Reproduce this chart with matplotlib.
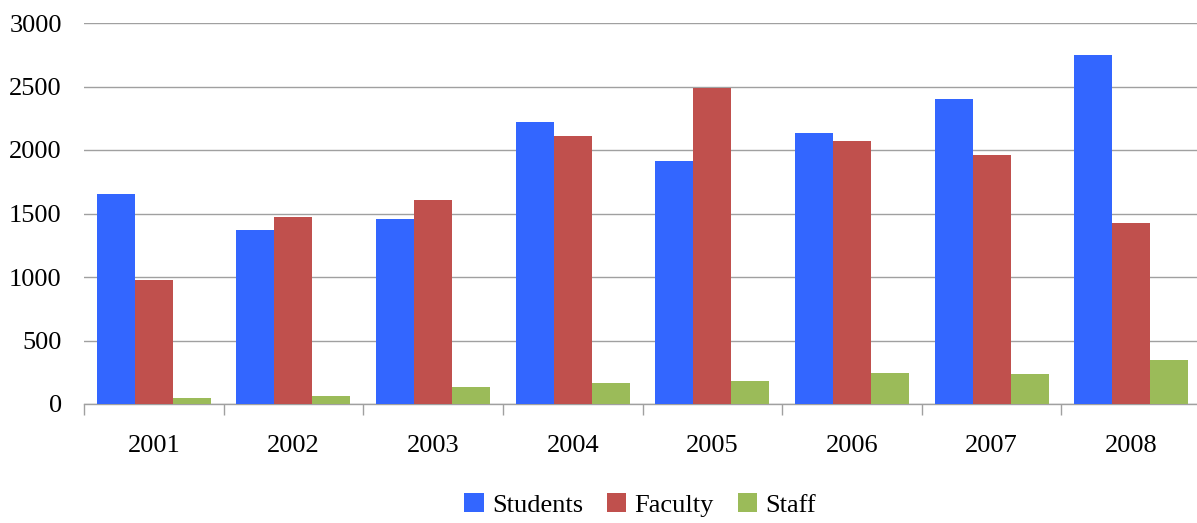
import numpy as np
import matplotlib.pyplot as plt

plt.rcParams['font.family'] = ['Liberation Serif', 'DejaVu Serif']

years = ['2001', '2002', '2003', '2004', '2005', '2006', '2007', '2008']
students = [1650, 1370, 1455, 2220, 1912, 2135, 2402, 2750]
faculty = [975, 1470, 1605, 2110, 2490, 2070, 1960, 1425]
staff = [50, 65, 130, 168, 184, 247, 240, 350]

series = [('Students', students, '#3366FF'),
          ('Faculty', faculty, '#C0504D'),
          ('Staff', staff, '#9BBB59')]

fig = plt.figure(figsize=(11.97, 5.23), dpi=100)
ax = fig.add_axes([84 / 1197, 119 / 523, 1117 / 1197, 381 / 523])

x = np.arange(len(years))
w = 0.272
for i, (name, vals, col) in enumerate(series):
    ax.bar(x + (i - 1) * w, vals, width=w, color=col, label=name, zorder=3)

ax.set_xlim(-0.5, len(years) - 0.5)
ax.set_ylim(0, 3000)
ax.set_yticks(range(0, 3001, 500))
ax.grid(axis='y', color='#a0a0a0', linewidth=1, zorder=0)
ax.set_xticks(x)
ax.set_xticklabels(years)
ax.set_xticks(np.arange(-0.5, len(years)), minor=True)
ax.tick_params(axis='x', which='major', length=0, pad=22, labelsize=19)
ax.tick_params(axis='x', which='minor', length=8, color='#a0a0a0', width=1)
ax.tick_params(axis='y', length=0, pad=16, labelsize=19)
for s in ['top', 'right', 'left']:
    ax.spines[s].set_visible(False)
ax.spines['bottom'].set_color('#a0a0a0')
ax.spines['bottom'].set_linewidth(1)

fig.legend(loc='center', bbox_to_anchor=(640 / 1197, 1 - 505 / 523), ncol=3,
           frameon=False, fontsize=19, handlelength=0.75, handleheight=0.75,
           handletextpad=0.3, columnspacing=0.9)

fig.savefig('out.png', dpi=100)
